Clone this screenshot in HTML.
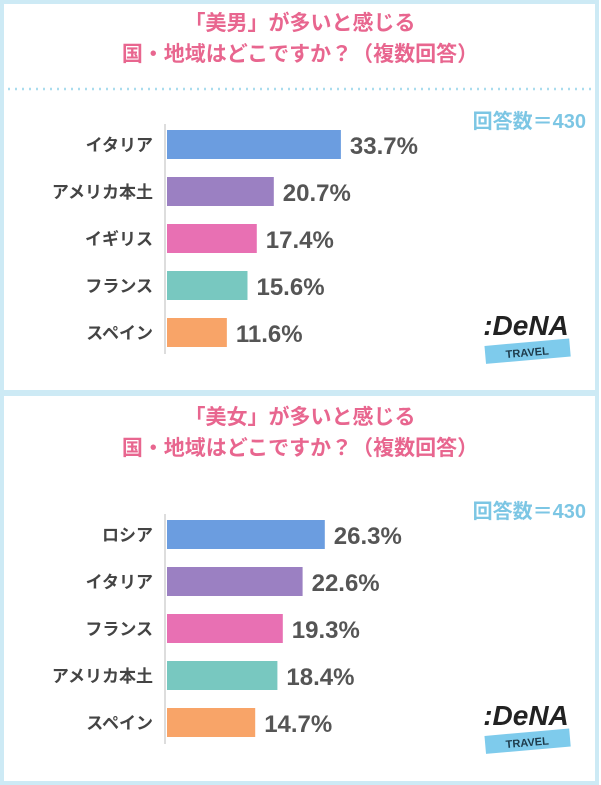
<!DOCTYPE html>
<html><head><meta charset="utf-8">
<style>
body{margin:0;background:#fff;}
svg{display:block;font-family:"Liberation Sans","Noto Sans CJK JP",sans-serif;}
</style></head>
<body>
<svg id="c" width="601" height="785" viewBox="0 0 601 785">
<rect x="2" y="2" width="595" height="390" fill="#fff" stroke="#cdeaf5" stroke-width="4"/>
<rect x="2" y="394" width="595" height="389" fill="#fff" stroke="#cdeaf5" stroke-width="4"/>
<g font-weight="bold" fill="#e8668f" font-size="21" text-anchor="middle">
<text x="300" y="30">「美男」が多いと感じる</text>
<text x="300" y="61">国・地域はどこですか？（複数回答）</text>
<text x="300" y="424">「美女」が多いと感じる</text>
<text x="300" y="455">国・地域はどこですか？（複数回答）</text>
</g>
<line x1="8" y1="89" x2="593" y2="89" stroke="#a9dcee" stroke-width="2.5" stroke-dasharray="2 5"/>
<g font-weight="bold" fill="#7cc6e4" font-size="20" text-anchor="end">
<text x="586" y="128">回答数＝430</text>
<text x="586" y="518">回答数＝430</text>
</g>
<g id="bars"></g>
<g transform="translate(490,300)">
<text x="36" y="35" font-size="28" font-weight="bold" fill="#222" text-anchor="middle" font-style="italic">:DeNA</text>
<g transform="rotate(-5 40 50)"><rect x="-5" y="42" width="85" height="18" fill="#7ecbec"/><text x="37" y="56" font-size="11" font-weight="bold" fill="#1d3a4a" text-anchor="middle">TRAVEL</text></g>
</g>
<g transform="translate(490,690)">
<text x="36" y="35" font-size="28" font-weight="bold" fill="#222" text-anchor="middle" font-style="italic">:DeNA</text>
<g transform="rotate(-5 40 50)"><rect x="-5" y="42" width="85" height="18" fill="#7ecbec"/><text x="37" y="56" font-size="11" font-weight="bold" fill="#1d3a4a" text-anchor="middle">TRAVEL</text></g>
</g>
</svg>
<script>
const menCategories=["イタリア","アメリカ本土","イギリス","フランス","スペイン"];
const menValues=[33.7,20.7,17.4,15.6,11.6];
const womenCategories=["ロシア","イタリア","フランス","アメリカ本土","スペイン"];
const womenValues=[26.3,22.6,19.3,18.4,14.7];
const colors=["#6b9de0","#9b80c2","#e870b3","#78c8c0","#f8a468"];
const NS="http://www.w3.org/2000/svg";
const g=document.getElementById("bars");
function mk(t,a){const e=document.createElementNS(NS,t);for(const k in a)e.setAttribute(k,a[k]);g.appendChild(e);return e;}
function draw(cats,vals,top,scale,key){
  const x0=167;
  const yS=i=>top+i*47;
  const xS=v=>v*scale;
  const ax=mk("line",{x1:165,x2:165,y1:yS(0)-6,y2:yS(cats.length-1)+36,stroke:"#ddd","stroke-width":2});
  
  
  cats.forEach((c,i)=>{
    const r=mk("rect",{x:x0,y:yS(i),width:xS(vals[i]),height:29,fill:colors[i]});
    
    
    const l=mk("text",{x:153,y:yS(i)+21,"font-size":17,"font-weight":"bold",fill:"#444","text-anchor":"end"});
    l.textContent=c;
    
    
    const v=mk("text",{x:x0+xS(vals[i])+9,y:yS(i)+24,"font-size":24,"font-weight":"bold",fill:"#555"});
    v.textContent=vals[i].toFixed(1)+"%";
    
    
  });
}
draw(menCategories,menValues,130,5.16,"men");
draw(womenCategories,womenValues,520,6.0,"women");
</script>
</body></html>
